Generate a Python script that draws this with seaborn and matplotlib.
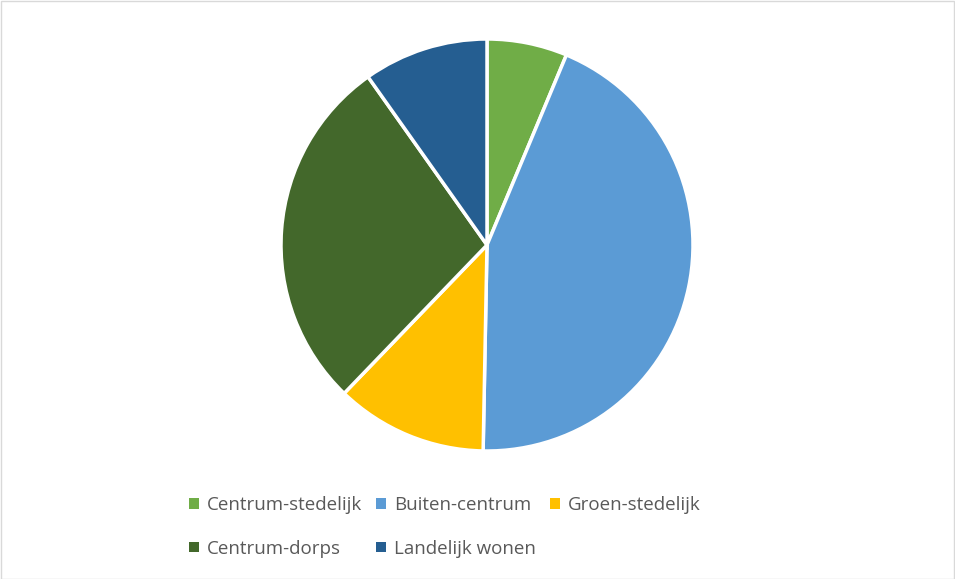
import matplotlib
matplotlib.use("Agg")
import matplotlib.pyplot as plt
import seaborn as sns
from matplotlib.patches import Rectangle, Patch

sns.set_theme(style="white")
plt.rcParams['font.family'] = ['Open Sans', 'DejaVu Sans']

categories = ["Centrum-stedelijk", "Buiten-centrum", "Groen-stedelijk", "Centrum-dorps", "Landelijk wonen"]
values = [6.3, 44.0, 11.9, 28.0, 9.8]
colors = ["#70AD47", "#5B9BD5", "#FFC000", "#43682B", "#255E91"]

fig = plt.figure(figsize=(9.55, 5.79), dpi=100)
W, H = 955, 579
cx, cy, r = 487, 245, 206
ax = fig.add_axes([(cx - r) / W, (H - cy - r) / H, 2 * r / W, 2 * r / H])
ax.pie(values, colors=colors, startangle=90, counterclock=False,
       wedgeprops=dict(edgecolor="white", linewidth=2.5))
ax.set_aspect("equal")
ax.set_xlim(-1, 1)
ax.set_ylim(-1, 1)
ax.axis("off")

fig.patches.append(Rectangle((0.5 / W, 0.5 / H), 1 - 1.5 / W, 1 - 1.5 / H,
                             transform=fig.transFigure, fill=False,
                             edgecolor="#D9D9D9", linewidth=1))

order = [0, 3, 1, 4, 2]
handles = [Patch(facecolor=colors[i], edgecolor="none") for i in order]
labels = [categories[i] for i in order]
fig.legend(handles, labels, ncol=3, loc="center",
           bbox_to_anchor=(445 / W, 1 - 527 / H), frameon=False,
           fontsize=13.5, labelcolor="#595959", handlelength=0.5, handleheight=0.5,
           handletextpad=0.45, columnspacing=0.75, labelspacing=1.35)

fig.savefig("out.png", dpi=100)
